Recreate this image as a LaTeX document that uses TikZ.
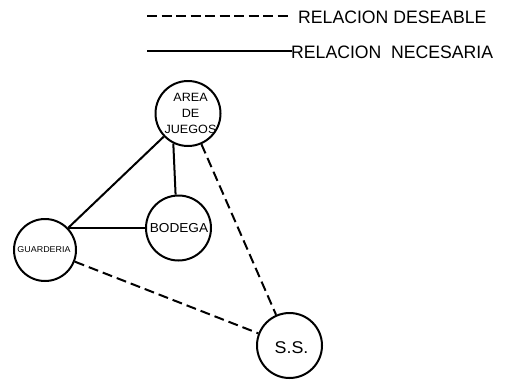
\documentclass[tikz,border=0pt]{standalone}
\usepackage{fontspec}
\setmainfont{Liberation Sans}
\newfontfamily\cadfont[FakeStretch=1.05]{Liberation Sans}
\newfontfamily\legfont[FakeStretch=0.98]{Liberation Sans}
\begin{document}
\begin{tikzpicture}[x=1pt,y=-1pt,
  place/.style={circle,draw,line width=2pt,inner sep=0pt,minimum size=#1},
  label text/.style={font=\cadfont\fontsize{#1}{#1}\selectfont,inner sep=0pt},
  legend text/.style={font=\legfont\fontsize{18}{18}\selectfont,inner sep=0pt,anchor=west},
  need/.style={line width=2pt},
  want/.style={line width=2pt,dash pattern=on 10pt off 5pt}]
\useasboundingbox (0,0) rectangle (506,381);
% legend
\coordinate (d1) at (147,16);
\coordinate (d2) at (292,16);
\coordinate (s1) at (147,51);
\coordinate (s2) at (292,51);
\draw[want,dash pattern=on 10pt off 4.5pt] (d1) -- (d2);
\draw[need] (s1) -- (s2);
\node[legend text] (lt1) at (298,17.5) {RELACION DESEABLE};
\node[legend text] (lt2) at (291,52) {RELACION\ \ NECESARIA};
% places
\node[place=65pt] (area) at (188,113.5) {};
\node[place=65pt] (bod) at (178.5,228) {};
\node[place=62pt] (guard) at (45,250) {};
\node[place=65pt] (ss) at (289.5,345.5) {};
\node[label text=12,align=center,font=\cadfont\fontsize{12}{16}\selectfont] (areat) at (190.5,113.5) {AREA\\DE\\JUEGOS};
\node[label text=13] (bodt) at (179,228) {BODEGA};
\node[label text=8.5] (guardt) at (44,250) {GUARDERIA};
\node[label text=17] (sst) at (291.5,348) {S.S.};
% connectors
\draw[need] (guard) -- (area);
\draw[need] (area.244) -- (bod.95);
\draw[need] (bod.west) -- (bod.west -| guard.45);
\draw[want] (area) -- (ss);
\draw[want] (guard) -- (ss);
\end{tikzpicture}
\end{document}
